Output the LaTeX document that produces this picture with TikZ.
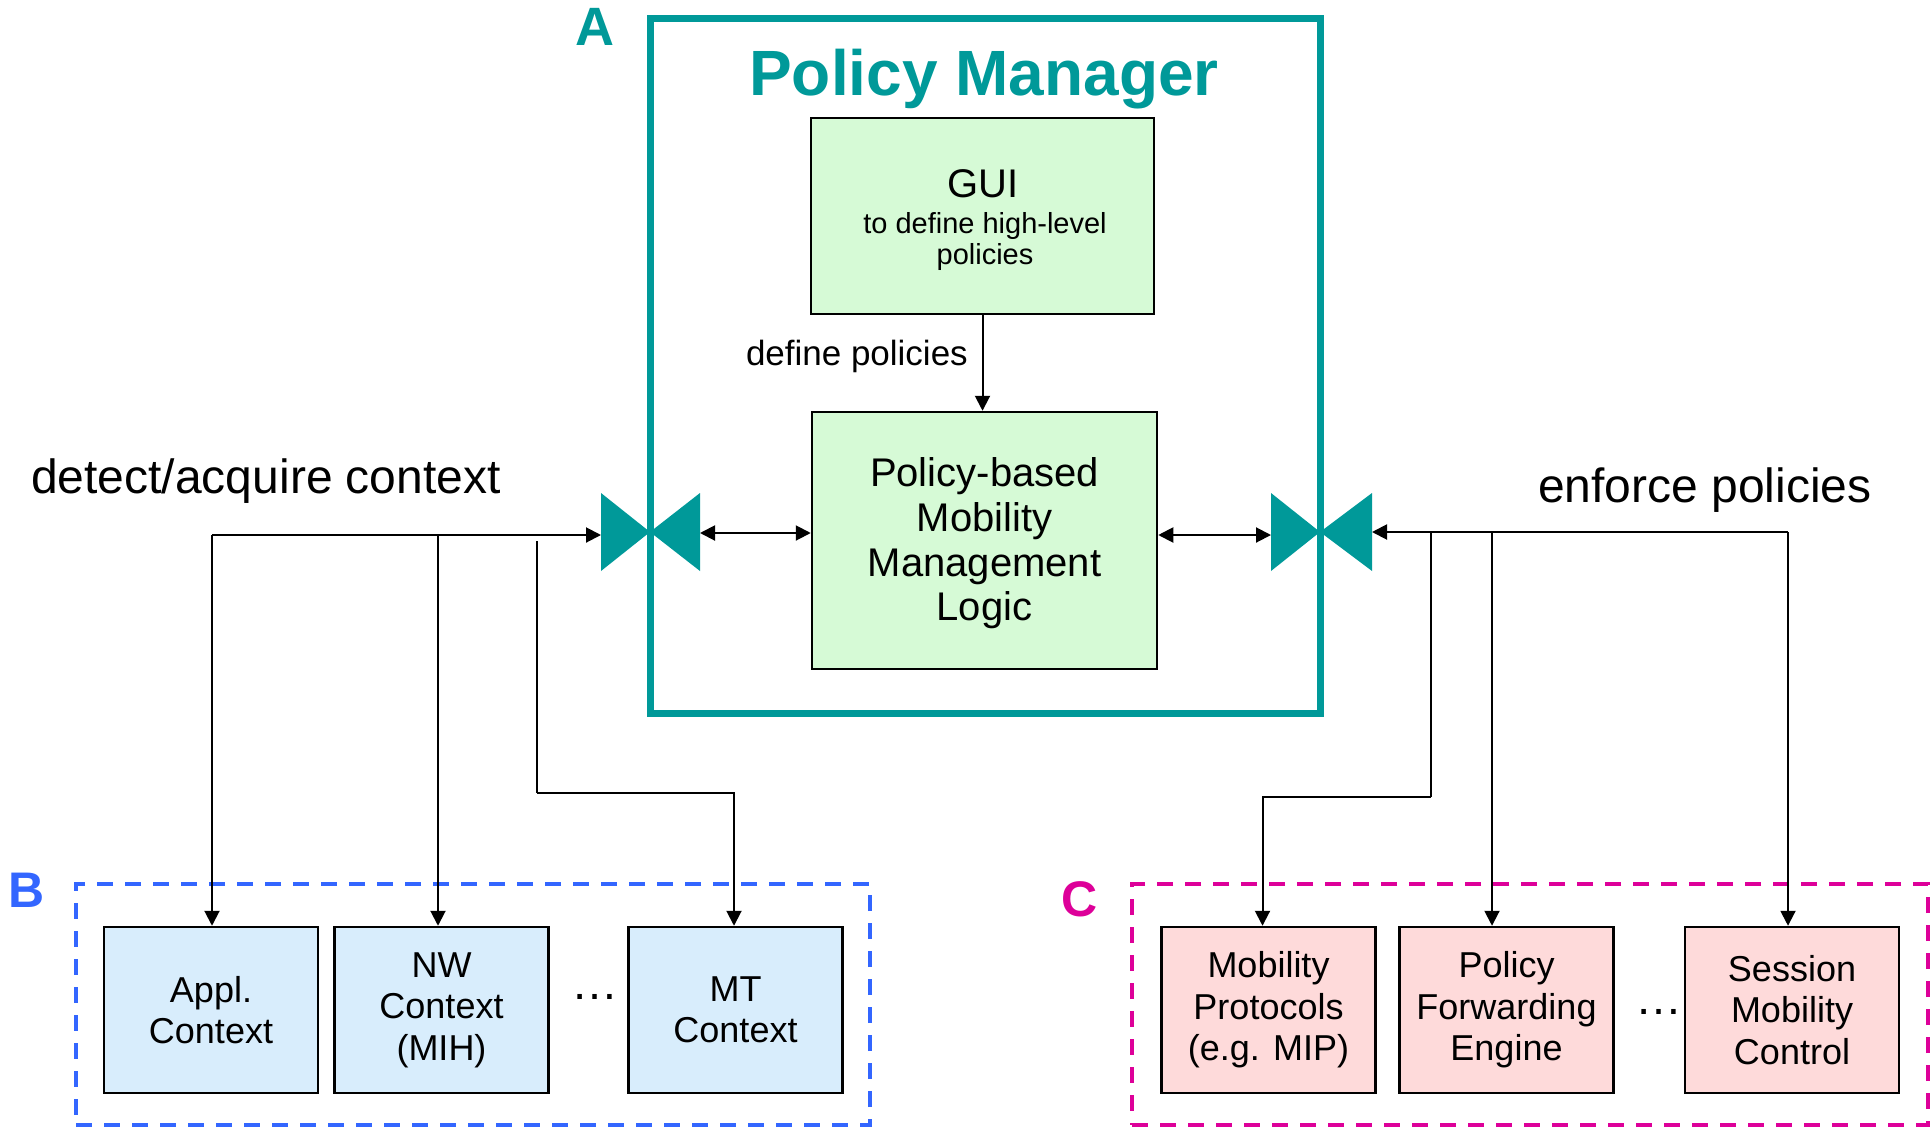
\documentclass[tikz,border=0pt]{standalone}
\usepackage{fontspec}
\setmainfont{Liberation Sans}
\usetikzlibrary{arrows.meta,calc}
\definecolor{pmteal}{RGB}{0,153,153}
\definecolor{bblue}{RGB}{51,102,255}
\definecolor{cmag}{RGB}{221,0,153}
\definecolor{gfill}{RGB}{214,250,214}
\definecolor{bfill}{RGB}{216,237,252}
\definecolor{pfill}{RGB}{254,218,218}
\begin{document}
\begin{tikzpicture}[x=1pt,y=-1pt,
  box/.style={draw=black, line width=2.5pt, inner sep=0pt, align=center},
  smallbox/.style={box, minimum width=214pt, minimum height=166pt, font=\fontsize{36}{41.5}\selectfont},
  bbox/.style={smallbox, fill=bfill},
  pbox/.style={smallbox, fill=pfill},
  arr/.style={-{Triangle[length=15pt,width=15pt]}, line width=2pt},
  darr/.style={{Triangle[length=15pt,width=15pt]}-{Triangle[length=15pt,width=15pt]}, line width=2pt},
  grp/.style={line width=4pt, dash pattern=on 16pt off 12pt, inner sep=0pt},
  bigletter/.style={font=\fontsize{50}{50}\selectfont\bfseries},
  biglabel/.style={font=\fontsize{48}{52}\selectfont, anchor=base west, inner sep=0pt},
  dotsstyle/.style={anchor=base, inner sep=0pt, font=\fontsize{47}{50}\selectfont},
  bowtie/.style={fill=pmteal, draw=none}
]
\useasboundingbox (0,0) rectangle (1932,1127);

% Policy Manager container
\node[draw=pmteal, line width=7pt, minimum width=670pt, minimum height=695pt, inner sep=0pt] (pm) at (985,365.5) {};
\node[anchor=base, inner sep=0pt, text=pmteal, font=\fontsize{64}{64}\selectfont\bfseries] (pmtitle) at (984,95) {Policy Manager};
\node[bigletter, text=pmteal, font=\fontsize{54}{54}\selectfont\bfseries] (lA) at (595,27) {A};

% GUI box
\node[box, fill=gfill, minimum width=343pt, minimum height=196pt] (gui) at (982.5,216) {};
\node[anchor=base, inner sep=0pt, font=\fontsize{40}{44}\selectfont] (guit) at (983,197) {GUI};
\node[anchor=base, inner sep=0pt, font=\fontsize{29}{31}\selectfont] (guit2) at (985,233) {to define high-level};
\node[anchor=base, inner sep=0pt, font=\fontsize{29}{31}\selectfont] (guit3) at (985,264) {policies};

% Policy-based logic box
\node[box, fill=gfill, minimum width=345pt, minimum height=257pt] (pbml) at (984.5,540.5) {};
\node[align=center, inner sep=0pt, font=\fontsize{40}{44.7}\selectfont] (pbmlt) at (984.5,543.5) {Policy-based\\Mobility\\Management\\Logic};

\draw[arr] (gui.south) -- (gui.south |- pbml.north);
\node[anchor=base east, inner sep=0pt, font=\fontsize{35}{38}\selectfont] (defpol) at (968,365) {define policies};

% bowties
\fill[bowtie] (601,493) -- (601,571) -- (650,532) -- cycle;
\fill[bowtie] (700,493) -- (700,571) -- (650,532) -- cycle;
\fill[bowtie] (1271,493) -- (1271,571) -- (1320,532) -- cycle;
\fill[bowtie] (1372,493) -- (1372,571) -- (1320,532) -- cycle;
\coordinate (bLin) at (601,535);
\coordinate (bLout) at (700,533);
\coordinate (bRin) at (1271,535);
\coordinate (bRout) at (1372,532);

\draw[darr] (bLout) -- (pbml.west |- bLout);
\draw[darr] (pbml.east |- bRin) -- (bRin);

% labels
\node[biglabel] (detect) at (31,493) {detect/acquire context};
\node[biglabel] (enforce) at (1538,502) {enforce policies};

% group B
\node[grp, draw=bblue, minimum width=794pt, minimum height=241pt] (grpB) at (473,1004.5) {};
\node[bigletter, text=bblue] (lB) at (27,890) {B};
\node[bbox] (appl) at (211,1010) {Appl.\\Context};
\node[bbox] (nw) at (441.5,1010) {NW\\Context\\(MIH)};
\node[bbox] (mt) at (735.5,1010) {MT\\Context};
\node[dotsstyle] (dotsB) at (595,999) {…};

% group C
\node[grp, draw=cmag, minimum width=796pt, minimum height=241pt] (grpC) at (1530,1004.5) {};
\node[bigletter, text=cmag] (lC) at (1080,899) {C};
\node[pbox] (mip) at (1268.5,1010) {Mobility\\Protocols\\(e.g. MIP)};
\node[pbox] (pfe) at (1506.5,1010) {Policy\\Forwarding\\Engine};
\node[pbox] (smc) at (1792,1010) {Session\\Mobility\\Control};
\node[dotsstyle] (dotsC) at (1659,1014) {…};

% left connectors
\coordinate (jL) at (212,535);
\coordinate (jN) at (438,535);
\coordinate (jM) at (537,541);
\coordinate (kM) at (537,793);
\draw[arr] (jL) -- (bLin);
\draw[arr] (jL) -- (jL |- appl.north);
\draw[arr] (jN) -- (jN |- nw.north);
\draw[line width=2pt] (jM) -- (kM);
\draw[arr] (kM) -| ($(mt.north)+(-1.5,0)$);

% right connectors
\coordinate (jS) at (1788,532);
\coordinate (jP) at (1492,532);
\coordinate (jQ) at (1431,532);
\coordinate (kQ) at (1431,797);
\draw[arr] (jS) -- (bRout);
\draw[arr] (jS) -- (jS |- smc.north);
\draw[arr] (jP) -- (jP |- pfe.north);
\draw[line width=2pt] (jQ) -- (kQ);
\draw[arr] (kQ) -| ($(mip.north)+(-6,0)$);
\end{tikzpicture}
\end{document}
